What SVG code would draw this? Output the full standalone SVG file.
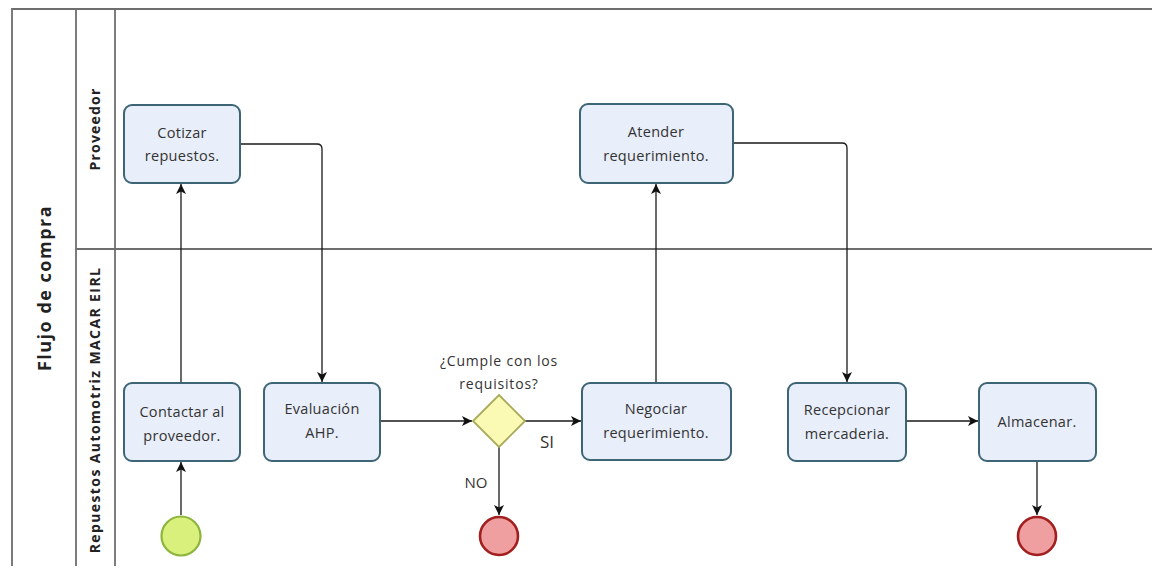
<svg xmlns="http://www.w3.org/2000/svg" width="1152" height="568" viewBox="0 0 1152 568">
<defs>
<style>
.lane{fill:none;stroke:#6e6e6e;stroke-width:1.8}
.task{fill:#e8eefa;stroke:#3d6576;stroke-width:2}
.t{font-family:"Open Sans","Noto Sans",sans-serif;font-size:14.5px;letter-spacing:0.3px;fill:#333;text-anchor:middle}
.g{font-family:"Open Sans","Noto Sans",sans-serif;font-size:14px;letter-spacing:0.8px;fill:#333;text-anchor:middle}
.lbl{font-family:"Open Sans","Noto Sans",sans-serif;font-weight:bold;fill:#222;text-anchor:middle}
.c{fill:none;stroke:#1a1a1a;stroke-width:1.3}
.start{fill:#d9f07c;stroke:#8db43c;stroke-width:2.2}
.end{fill:#ef9f9f;stroke:#a31f1f;stroke-width:2.6}
.gw{fill:#fbfab4;stroke:#a9aa5c;stroke-width:1.8}
</style>
<marker id="arr" viewBox="0 0 10 10" refX="10" refY="5" markerWidth="10" markerHeight="10" markerUnits="userSpaceOnUse" orient="auto">
<path d="M0,0 L10,5 L0,10 L2.5,5 Z" fill="#111"/>
</marker>
</defs>
<rect width="1152" height="568" fill="#fff"/>
<g id="pool">
<path class="lane" d="M1152,9 H12 V566"/>
<line class="lane" x1="76" y1="9" x2="76" y2="566"/>
<line class="lane" x1="115" y1="9" x2="115" y2="566"/>
<line class="lane" x1="76" y1="249" x2="1152" y2="249"/>
<text class="lbl" style="font-size:18px;letter-spacing:1.5px" transform="translate(51,288) rotate(-90)">Flujo de compra</text>
<text class="lbl" style="font-size:14px;letter-spacing:1.2px" transform="translate(100,129) rotate(-90)">Proveedor</text>
<text class="lbl" style="font-size:14px;letter-spacing:1.4px" transform="translate(100,410) rotate(-90)">Repuestos Automotriz MACAR EIRL</text>
</g>
<g id="connectors">
<path class="c" d="M181,515 V462" marker-end="url(#arr)"/>
<path class="c" d="M181,383 V184" marker-end="url(#arr)"/>
<path class="c" d="M240,144 H317 Q322,144 322,149 V382" marker-end="url(#arr)"/>
<path class="c" d="M380,421 H472" marker-end="url(#arr)"/>
<path class="c" d="M525,421 H581" marker-end="url(#arr)"/>
<path class="c" d="M499,447 V515" marker-end="url(#arr)"/>
<path class="c" d="M656,383 V184" marker-end="url(#arr)"/>
<path class="c" d="M733,143 H842 Q847,143 847,148 V382" marker-end="url(#arr)"/>
<path class="c" d="M906,421 H978" marker-end="url(#arr)"/>
<path class="c" d="M1037,461 V515" marker-end="url(#arr)"/>
<text class="g" x="547" y="448" style="font-size:17px;letter-spacing:0">SI</text>
<text class="g" x="476" y="488" style="font-size:15px;letter-spacing:0">NO</text>
</g>
<g id="start">
<circle class="start" cx="181" cy="536" r="19.5"/>
</g>
<g id="cotizar">
<rect class="task" x="124" y="105" width="116" height="78" rx="8"/>
<text class="t" x="182" y="138">Cotizar</text>
<text class="t" x="182" y="161">repuestos.</text>
</g>
<g id="contactar">
<rect class="task" x="124" y="383" width="116" height="78" rx="8"/>
<text class="t" x="182" y="417">Contactar al</text>
<text class="t" x="182" y="441">proveedor.</text>
</g>
<g id="evaluacion">
<rect class="task" x="264" y="383" width="116" height="78" rx="8"/>
<text class="t" x="322" y="414">Evaluación</text>
<text class="t" x="322" y="438">AHP.</text>
</g>
<g id="gateway">
<path class="gw" d="M499,395 L525,421 L499,447 L473,421 Z"/>
<text class="g" x="499" y="366">¿Cumple con los</text>
<text class="g" x="499" y="389">requisitos?</text>
</g>
<g id="end1">
<circle class="end" cx="499" cy="536" r="19"/>
</g>
<g id="negociar">
<rect class="task" x="582" y="383" width="149" height="77" rx="8"/>
<text class="t" x="656" y="414">Negociar</text>
<text class="t" x="656" y="438">requerimiento.</text>
</g>
<g id="atender">
<rect class="task" x="580" y="104" width="153" height="79" rx="8"/>
<text class="t" x="656" y="137">Atender</text>
<text class="t" x="656" y="161">requerimiento.</text>
</g>
<g id="recepcionar">
<rect class="task" x="788" y="383" width="118" height="78" rx="8"/>
<text class="t" x="847" y="415">Recepcionar</text>
<text class="t" x="847" y="439">mercaderia.</text>
</g>
<g id="almacenar">
<rect class="task" x="979" y="383" width="117" height="78" rx="8"/>
<text class="t" x="1037" y="427">Almacenar.</text>
</g>
<g id="end2">
<circle class="end" cx="1037" cy="536" r="19"/>
</g>
</svg>
